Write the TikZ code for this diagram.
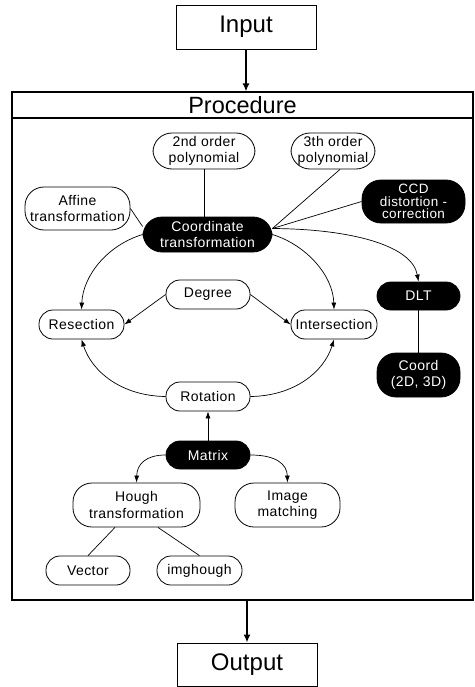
\documentclass[tikz,border=0pt]{standalone}
\usepackage{fontspec}
\setmainfont{Liberation Sans}
\newfontfamily\bubblefont[LetterSpace=3]{Liberation Sans}
\usetikzlibrary{arrows.meta}
\begin{document}
\begin{tikzpicture}[x=1pt,y=-1pt,
  every node/.style={inner sep=0pt, align=center},
  bubble/.style={draw, line width=0.8pt, rounded corners=14pt,
    font=\bubblefont\fontsize{14}{16.5}\selectfont},
  tall/.style={rounded corners=19pt},
  darkbubble/.style={bubble, fill=black, text=white},
  bigbox/.style={draw, line width=0.9pt, font=\fontsize{24}{28}\selectfont},
  link/.style={line width=0.7pt},
  arr/.style={link, -{Latex[length=7pt,width=5pt]}},
  bigarr/.style={line width=1.6pt, -{Latex[length=8pt,width=7pt]}}
]
\useasboundingbox (0,0) rectangle (474,687);

% outer blocks
\node[bigbox, minimum width=140pt, minimum height=44pt] (in) at (246,27) {Input};
\node[draw, line width=1.1pt, minimum width=461pt, minimum height=508pt] (frame) at (242.5,346) {};
\node[bigbox, line width=1.1pt, minimum width=461pt, minimum height=26pt, font=\fontsize{23.5}{28}\selectfont] (proc) at (242.5,105) {Procedure};
\node[bigbox, minimum width=140pt, minimum height=43pt] (out) at (247,664.5) {Output};

% procedure nodes
\node[bubble, tall, minimum width=102pt, minimum height=36pt] (p2) at (204,151) {2nd order\\polynomial};
\node[bubble, tall, minimum width=84pt, minimum height=36pt] (p3) at (333,151) {3th order\\polynomial};
\node[bubble, tall, minimum width=105pt, minimum height=43pt] (aff) at (77.5,208.5) {Affine\\transformation};
\node[darkbubble, tall, minimum width=129pt, minimum height=35pt] (ct) at (207.5,234.5) {Coordinate\\transformation};
\node[darkbubble, tall, minimum width=103pt, minimum height=43pt, font=\bubblefont\fontsize{13.5}{12.5}\selectfont] (ccd) at (413.5,201.5) {CCD\\distortion -\\correction};
\node[darkbubble, minimum width=83pt, minimum height=28pt] (dlt) at (418.5,296) {DLT};
\node[darkbubble, tall, minimum width=83pt, minimum height=44pt] (crd) at (418.5,375) {Coord\\(2D, 3D)};
\node[bubble, minimum width=84pt, minimum height=29pt] (deg) at (208,294.5) {Degree};
\node[bubble, minimum width=85pt, minimum height=29pt] (res) at (81.5,324.5) {Resection};
\node[bubble, minimum width=86pt, minimum height=29pt] (int) at (334,324.5) {Intersection};
\node[bubble, minimum width=84pt, minimum height=29pt] (rot) at (208,396.5) {Rotation};
\node[darkbubble, minimum width=84pt, minimum height=28pt] (mat) at (208,455) {Matrix};
\node[bubble, tall, minimum width=127pt, minimum height=44pt] (hough) at (136.5,505) {Hough\\transformation};
\node[bubble, tall, minimum width=105pt, minimum height=44pt] (imgm) at (287.5,505) {Image\\matching};
\node[bubble, minimum width=84pt, minimum height=29pt] (vec) at (88,570.5) {Vector};
\node[bubble, minimum width=85pt, minimum height=29pt] (imgh) at (199.5,570.5) {imghough};

% flow in and out of the procedure
\draw[bigarr] (in.south) -- (in.south |- proc.north);
\draw[bigarr] (out.north |- frame.south) -- (out.north);

% coordinate transformation and its variants
\coordinate (hub) at ([yshift=6pt]ct.east);
\draw[link] (p2.south) -- (p2.south |- ct.north);
\draw[link] ([xshift=7pt]p3.south) -- (hub);
\draw[link] (ccd.west) -- (hub);
\draw[link] (aff.east) -- ([yshift=8pt]ct.west);
\draw[arr] (hub) .. controls (350,229) and (412,245) .. (dlt.north);
\draw[link] (dlt.south) -- (crd.north);
\draw[arr] (ct.west) .. controls (108,245) and (83,275) .. (res.north);
\draw[arr] (ct.east) .. controls (306,245) and (333,275) .. (int.north);

% degree and rotation
\draw[arr] (deg.west) -- (res.east);
\draw[arr] (deg.east) -- (int.west);
\draw[arr] (rot.west) .. controls (122,396) and (92,372) .. (res.south);
\draw[arr] (rot.east) .. controls (294,396) and (324,372) .. (int.south);

% matrix branch
\draw[arr] (mat.north) -- (rot.south);
\draw[arr] (mat.west) .. controls (146,455) and (137,464) .. (hough.north);
\draw[arr] (mat.east) .. controls (276,455) and (287,464) .. (imgm.north);
\draw[link] ([xshift=-21.5pt]hough.south) -- (vec.north);
\draw[link] ([xshift=21.5pt]hough.south) -- (imgh.north);
\end{tikzpicture}
\end{document}
